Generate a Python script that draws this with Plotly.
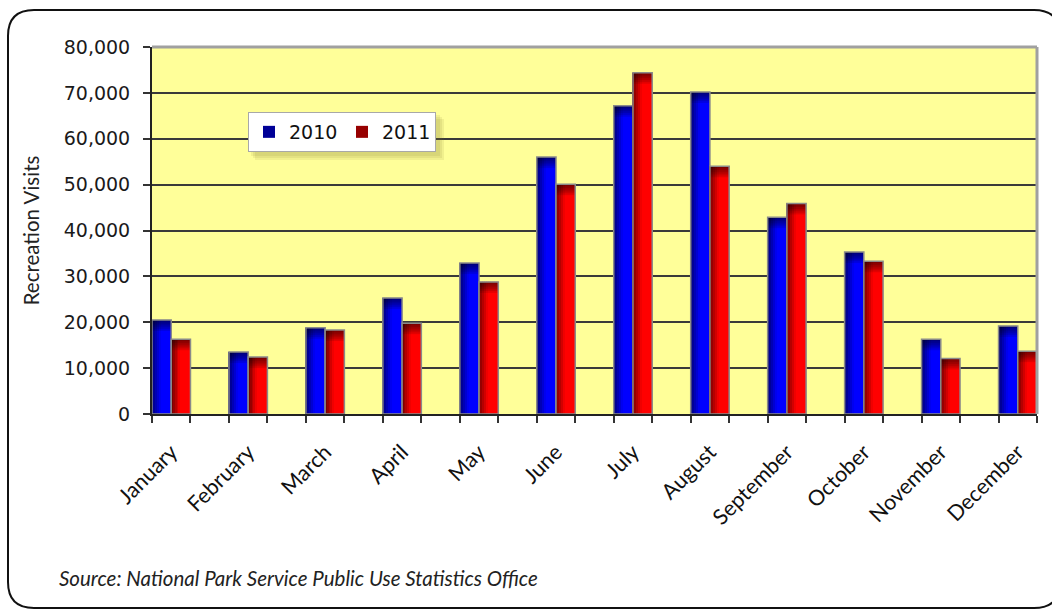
import plotly.graph_objects as go

# Monthly recreation visits
months = ["January", "February", "March", "April", "May", "June",
          "July", "August", "September", "October", "November", "December"]
visits_2010 = [20500, 13500, 18800, 25300, 32900, 56000,
               67200, 70200, 42900, 35300, 16300, 19200]
visits_2011 = [16300, 12400, 18300, 19800, 28800, 50100,
               74400, 54000, 45900, 33300, 12100, 13700]
y_ticks = [0, 10000, 20000, 30000, 40000, 50000, 60000, 70000, 80000]

# Each month takes one slot, followed by an empty slot
month_pos = [2 * i for i in range(len(months))]
slot_edges = [p - 0.5 for p in range(2 * len(months))]

W, H = 1052, 613
M_L, M_R, M_T, M_B = 152, 15, 47, 199
PW, PH = W - M_L - M_R, H - M_T - M_B


def px(x):
    return (x - M_L) / PW


def py(y):
    return (H - M_B - y) / PH


fig = go.Figure()

N_STRIPS = 10
series = [
    ("2010", visits_2010, -0.5, lambda v: f"rgb(0,0,{v})"),
    ("2011", visits_2011, 0.0, lambda v: f"rgb({v},0,0)"),
]
bar_w = 0.5

for name, vals, off, col in series:
    sw = bar_w / N_STRIPS
    for k in range(N_STRIPS):
        t = (k + 0.5) / N_STRIPS
        inten = int(255 * (0.42 + 0.58 * min(1.0, t / 0.5)))
        xs = [m + off + (k + 0.5) * sw for m in month_pos]
        fig.add_trace(go.Bar(
            x=xs, y=vals, width=sw, name=name,
            marker=dict(color=col(inten), line=dict(width=0)),
            showlegend=(k == 1), legendgroup=name, hoverinfo="skip",
        ))
    # darker band at the top of each bar
    band = 2400
    steps = 6
    centers = [m + off + bar_w / 2 for m in month_pos]
    for j in range(steps):
        h = band * (j + 1) / steps
        fig.add_trace(go.Bar(
            x=centers, y=[h] * len(vals), base=[v - h for v in vals],
            width=bar_w, marker=dict(color="rgba(0,0,0,0.11)", line=dict(width=0)),
            showlegend=False, hoverinfo="skip",
        ))
    # outline
    fig.add_trace(go.Bar(
        x=centers, y=vals, width=bar_w,
        marker=dict(color="rgba(0,0,0,0)", line=dict(color="#8a8a8a", width=1.5)),
        showlegend=False, hoverinfo="skip",
    ))

LEG_L, LEG_R, LEG_T, LEG_B = 248, 437, 112, 153

shapes = []
# legend shadow
for i, a in enumerate([0.10, 0.10, 0.10]):
    d = 3 + i * 2
    shapes.append(dict(type="rect", xref="paper", yref="paper",
                       x0=px(LEG_L + d), x1=px(LEG_R + d), y0=py(LEG_B + d), y1=py(LEG_T + d),
                       fillcolor=f"rgba(120,110,40,{a})", line=dict(width=0), layer="above"))
# gray top and right plot edges
shapes.append(dict(type="line", xref="paper", yref="paper", x0=0, x1=1, y0=1, y1=1,
                   line=dict(color="#a0a0a0", width=3), layer="above"))
shapes.append(dict(type="line", xref="paper", yref="paper", x0=1, x1=1, y0=0, y1=1,
                   line=dict(color="#a0a0a0", width=3), layer="above"))

# rounded outer frame
L, R, T, B, r = 8, 1060, 10, 608, 26
path = (f"M {px(L + r)},{py(T)} L {px(R - r)},{py(T)} Q {px(R)},{py(T)} {px(R)},{py(T + r)} "
        f"L {px(R)},{py(B - r)} Q {px(R)},{py(B)} {px(R - r)},{py(B)} "
        f"L {px(L + r)},{py(B)} Q {px(L)},{py(B)} {px(L)},{py(B - r)} "
        f"L {px(L)},{py(T + r)} Q {px(L)},{py(T)} {px(L + r)},{py(T)} Z")
shapes.append(dict(type="path", xref="paper", yref="paper", path=path,
                   line=dict(color="#111111", width=2), layer="below"))

fig.update_layout(
    width=W, height=H,
    margin=dict(l=M_L, r=M_R, t=M_T, b=M_B),
    barmode="overlay",
    paper_bgcolor="white",
    plot_bgcolor="#FFFF99",
    showlegend=True,
    legend=dict(orientation="h", x=px(LEG_L), y=py(LEG_T), xanchor="left", yanchor="top",
                bgcolor="white", bordercolor="#a8a8a8", borderwidth=1,
                font=dict(family="DejaVu Sans", size=19, color="#111111"),
                entrywidth=48, entrywidthmode="pixels",
                traceorder="normal"),
    shapes=shapes,
    xaxis=dict(
        range=[-0.5, 2 * len(months) - 1.5],
        tickmode="array", tickvals=month_pos, ticktext=months,
        ticks="", tickangle=-45, ticklabelstandoff=15,
        tickfont=dict(family="Lato", size=21.5, color="#111111"),
        minor=dict(tickmode="array", tickvals=slot_edges + [2 * len(months) - 1.5],
                   ticks="outside", ticklen=7, tickwidth=1.5, tickcolor="#333333",
                   showgrid=False),
        showline=True, linecolor="#222222", linewidth=2,
        showgrid=False, zeroline=False, fixedrange=True,
    ),
    yaxis=dict(
        range=[0, 80000],
        tickmode="array", tickvals=y_ticks, tickformat=",d",
        ticks="outside", ticklen=7, tickwidth=1.5, tickcolor="#333333",
        ticklabelstandoff=9,
        tickfont=dict(family="DejaVu Sans", size=19, color="#1a1a1a"),
        showline=True, linecolor="#222222", linewidth=2,
        showgrid=True, gridcolor="#3a3a3a", gridwidth=1.5,
        zeroline=False,
        title=dict(text="Recreation Visits", standoff=19,
                   font=dict(family="Lato", size=20.5, color="#222222")),
    ),
    annotations=[dict(
        text="Source: National Park Service Public Use Statistics Office",
        xref="paper", yref="paper", x=px(57), y=py(578), xanchor="left", yanchor="middle",
        showarrow=False,
        font=dict(family="Lato", size=20.5, color="#222222", style="italic"),
    )],
)

fig.write_html("out.html")
